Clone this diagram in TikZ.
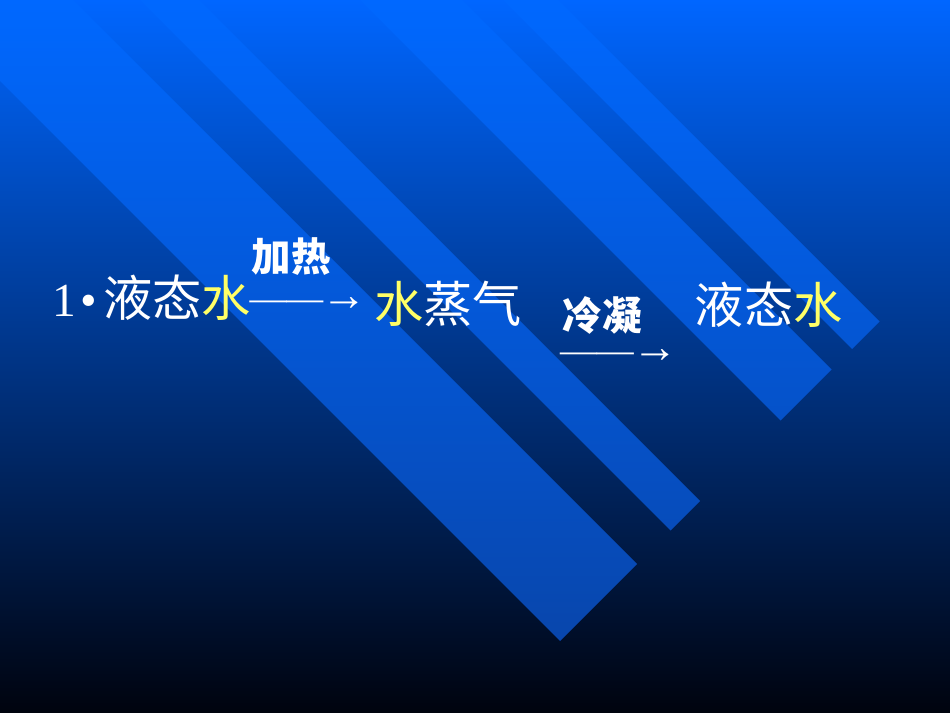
\documentclass[tikz,border=0pt]{standalone}
\usepackage{fontspec}
\setmainfont{Liberation Serif}
\newfontfamily\cjk{Noto Sans CJK SC}
\usetikzlibrary{positioning}
\definecolor{bgtop}{RGB}{0,102,255}
\definecolor{bgbottom}{RGB}{0,3,14}
\definecolor{bandtop}{RGB}{0,104,255}
\definecolor{bandbottom}{RGB}{8,70,172}
\definecolor{wateryellow}{RGB}{255,255,102}
\newcommand{\procarrow}{——\kern-1pt{\fontsize{26}{26}\selectfont→}}
\tikzset{%
slide text/.style={text=white, inner sep=0pt, outer sep=0pt},
cjk line/.style={slide text, font=\cjk\fontsize{28}{28}\selectfont},
proc label/.style={slide text, font=\cjk\bfseries\fontsize{22.5}{22.5}\selectfont},
arrow text/.style={slide text, font=\fontsize{21}{21}\selectfont},
}
\begin{document}
\begin{tikzpicture}[x=0.02cm, y=-0.02cm]
\useasboundingbox (0,0) rectangle (950,713);
% background
\shade[top color=bgtop, bottom color=bgbottom] (0,0) rectangle (950,713);
% diagonal bands
\begin{scope}
\clip (0,0) rectangle (950,713);
\shade[top color=bandtop, bottom color=bandbottom]
  (-81,0) -- (73,0) -- (637,564) -- (560,641) -- cycle
  (140,0) -- (199,0) -- (700,501) -- (670.5,530.5) -- cycle
  (360,0) -- (462,0) -- (831.5,369.5) -- (780.5,420.5) -- cycle
  (503,0) -- (558,0) -- (879.5,321.5) -- (852,349) -- cycle;
\end{scope}

% first line
\node (liq) [cjk line, anchor=west] at (103,298) {液态\textcolor{wateryellow}{水}};
\node (num) [slide text, font=\fontsize{27}{27}\selectfont, base left=0.12cm of liq] {1\kern2.3pt•};
\node (heat) [proc label, above right=0cm and 0.02cm of liq.north east] {加热};
\node (arrowA) [arrow text, mid right=-0.02cm of liq, yshift=0.12cm] {\procarrow};
\node (vapor) [cjk line, right=0.14cm of arrowA] {\textcolor{wateryellow}{水}蒸气};
\node (cool) [proc label, right=0.82cm of vapor, yshift=-0.22cm] {冷凝};
\node (arrowB) [arrow text, below=0.3cm of cool, xshift=0.33cm] {\procarrow};
\node (liq2) [cjk line, right=3.46cm of vapor] {液态\textcolor{wateryellow}{水}};
\end{tikzpicture}
\end{document}
